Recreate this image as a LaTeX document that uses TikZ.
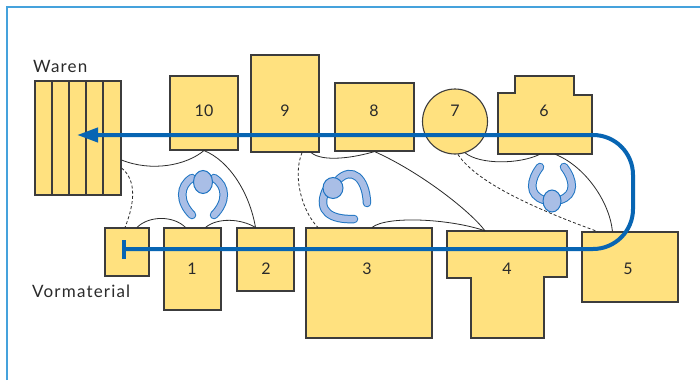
\documentclass[tikz,border=0pt]{standalone}
\usepackage{fontspec}
\setmainfont{Lato}
\newfontfamily\capfont[LetterSpace=7]{Lato}
\usetikzlibrary{arrows.meta,calc}
\definecolor{boxfill}{HTML}{FFE17F}
\definecolor{boxline}{HTML}{3C3C3C}
\definecolor{flow}{HTML}{0765B3}
\definecolor{frameblue}{HTML}{45A2DC}
\definecolor{skin}{HTML}{A9BEE6}
\definecolor{skinline}{HTML}{1E74C2}
\definecolor{ink}{HTML}{2A2A2A}

\begin{document}
\begin{tikzpicture}[x=1pt,y=-1pt,
  station/.style={draw=boxline, fill=boxfill, line width=1.1pt, inner sep=0pt},
  num/.style={font=\fontsize{16}{16}\selectfont, text=ink, inner sep=0pt},
  caption/.style={font=\capfont\fontsize{17}{17}\selectfont, text=ink, inner sep=0pt},
  link/.style={line width=0.8pt, draw=ink},
  dashlink/.style={link, dash pattern=on 3pt off 2.2pt},
  armedge/.style={line width=8.5pt, draw=skinline, line cap=round},
  armfill/.style={line width=6.5pt, draw=skin, line cap=round},
  head/.style={fill=skin, draw=skinline, line width=1pt},
  flowline/.style={line width=4pt, draw=flow}
]
\useasboundingbox (0,0) rectangle (700,380);
\fill[white] (0,0) rectangle (700,380);
% outer frame
\draw[frameblue, line width=2pt] (7,380) -- (7,7) -- (700,7);

% finished goods rack
\node[station, minimum width=86pt, minimum height=114pt] (waren) at (78,138) {};
\foreach \x in {52,69,86,103} \draw[draw=boxline, line width=1.1pt] (\x,81) -- (\x,195);
\node[caption, anchor=base west] (lwaren) at (33,72) {Waren};

% raw material store
\node[station, minimum width=44pt, minimum height=48pt] (vm) at (127,252) {};
\node[caption, anchor=base west] (lvm) at (32,297) {Vormaterial};

% upper row of stations
\node[station, minimum width=68pt, minimum height=74pt] (b10) at (204,113) {};
\node[station, minimum width=68pt, minimum height=97pt] (b9) at (285,103.5) {};
\node[station, minimum width=79pt, minimum height=68pt] (b8) at (374.5,117) {};
\node[station, circle, minimum size=65pt] (c7) at (455,121.5) {};
\draw[station] (498,154) -- (498,93) -- (515,93) -- (515,76) -- (574,76) -- (574,95)
  -- (592,95) -- (592,154) -- cycle;
\node[inner sep=0pt, minimum width=94pt, minimum height=61pt] (b6) at (545,123.5) {};

% lower row of stations
\node[station, minimum width=57pt, minimum height=82pt] (b1) at (192.5,269) {};
\node[station, minimum width=57pt, minimum height=63pt] (b2) at (265.5,259.5) {};
\node[station, minimum width=126pt, minimum height=110pt] (b3) at (369,283) {};
\draw[station] (447,231) -- (567,231) -- (567,277) -- (544,277) -- (544,338)
  -- (471,338) -- (471,278) -- (447,278) -- cycle;
\node[inner sep=0pt, minimum width=120pt, minimum height=47pt] (b4) at (507,254.5) {};
\node[station, minimum width=96pt, minimum height=70pt] (b5) at (630,267) {};

% station numbers
\node[num] (l10) at (204,111) {10};
\node[num] (l9) at (285,111) {9};
\node[num] (l8) at (374,111) {8};
\node[num] (l7) at (455,111) {7};
\node[num] (l6) at (544,111) {6};
\node[num] (l1) at (192,268.5) {1};
\node[num] (l2) at (266,268.5) {2};
\node[num] (l3) at (367,268.5) {3};
\node[num] (l4) at (507,268.5) {4};
\node[num] (l5) at (628,268.5) {5};

% walking paths of the operators
\draw[link] ($(waren.east)+(0,22)$) .. controls +(30,12) and +(-18,15) .. (b10.south);
\draw[link] (b10.south) .. controls +(25,10) and +(-6,-35) .. ($(b2.north)+(-10,0)$);
\draw[link] ($(vm.north)+(10,0)$) .. controls +(12,-12) and +(-12,-12) .. ($(b1.north)+(-7,0)$);
\draw[link] ($(b1.north)+(13,0)$) .. controls +(12,-10) and +(-15,-9) .. ($(b2.north)+(-10,0)$);
\draw[dashlink] ($(waren.east)+(0,30)$) .. controls +(15,12) and +(10,-25) .. ($(vm.north)+(-2,0)$);

\draw[dashlink] ($(b9.south)+(17,0)$) .. controls +(-10,25) and +(-15,-15) .. ($(b3.north)+(-51,0)$);
\draw[link] ($(b9.south)+(26,0)$) .. controls +(12,10) and +(-20,6) .. (b8.south);
\draw[link] (b8.south) .. controls +(45,20) and +(-15,-20) .. ($(b4.north)+(-22,0)$);
\draw[link] ($(b3.north)+(3,0)$) .. controls +(15,-12) and +(-35,-12) .. ($(b4.north)+(-22,0)$);

\draw[link] (c7.-72) .. controls +(15,12) and +(-20,10) .. ($(b6.south)+(-5,0)$);
\draw[dashlink] (c7.-85) .. controls +(20,30) and +(-55,-20) .. ($(b5.north west)+(16,0)$);
\draw[link] ($(b6.south)+(10,0)$) .. controls +(30,12) and +(-3,-30) .. ($(b5.north west)+(31,0)$);

% operator between stations 10, 1 and 2
\draw[armedge] (192,178) .. controls (179,186) and (179,202) .. (192,215);
\draw[armedge] (214,178) .. controls (227,186) and (227,202) .. (214,215);
\draw[armfill] (192,178) .. controls (179,186) and (179,202) .. (192,215);
\draw[armfill] (214,178) .. controls (227,186) and (227,202) .. (214,215);
\draw[head] (203,182) ellipse [x radius=9.5pt, y radius=11.5pt];

% operator between stations 9, 8 and 3
\draw[armedge] (338,180) .. controls (352,166) and (366,178) .. (367,203);
\draw[armedge] (326,190) .. controls (316,212) and (332,220) .. (354,219);
\draw[armfill] (338,180) .. controls (352,166) and (366,178) .. (367,203);
\draw[armfill] (326,190) .. controls (316,212) and (332,220) .. (354,219);
\draw[head] (333,188) ellipse [x radius=10pt, y radius=10.5pt];

% operator between stations 7, 6 and 5
\draw[armedge] (540,167) .. controls (530,180) and (528,195) .. (544,200);
\draw[armedge] (564,167) .. controls (574,180) and (576,195) .. (560,200);
\draw[armfill] (540,167) .. controls (530,180) and (528,195) .. (544,200);
\draw[armfill] (564,167) .. controls (574,180) and (576,195) .. (560,200);
\draw[head] (552,201) ellipse [x radius=9pt, y radius=11pt];

% material flow through the cell
\coordinate (flowstart) at (122,249);
\coordinate (flowend) at (77,135);
\draw[flowline, rounded corners=40pt, {Bar[width=19pt]}-{Triangle[length=21pt,width=14pt]}]
  (flowstart) -- (633,249) -- (633,135) -- (flowend);
\end{tikzpicture}
\end{document}
